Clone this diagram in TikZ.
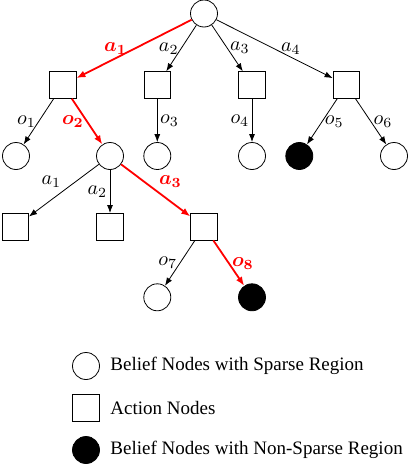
\documentclass[tikz,border=0pt]{standalone}
\usepackage{fontspec}
\setmainfont{Liberation Serif}
\usepackage{amsmath, amssymb, bm}
\usepackage{xcolor}
\usetikzlibrary{arrows.meta, positioning}

\begin{document}
\begin{tikzpicture}[x=0.5pt, y=-0.5pt,
    % Styles
    belief/.style={draw, circle, minimum size=13.5pt, inner sep=0pt, thin},
    nsbelief/.style={belief, fill=black},
    action/.style={draw, rectangle, minimum size=13.3pt, inner sep=0pt, thin},
    arrow/.style={-{Latex[length=4pt, width=3pt]}, thin},
    redarrow/.style={-{Latex[length=4.5pt, width=3.5pt]}, red, line width=0.9pt},
    lbl/.style={font=\normalsize, inner sep=1.2pt},
    redlbl/.style={lbl, text=red},
    legtext/.style={font=\fontsize{9.5}{11}\selectfont, anchor=west, inner sep=0pt}
  ]
    \useasboundingbox (0,0) rectangle (408,466);

    % === Root and first actions ===
    \node[belief] (root) at (204,13.5) {};
    \node[action] (b1) at (62.7,85) {};
    \node[action] (b2) at (157.3,85) {};
    \node[action] (b3) at (252,85) {};
    \node[action] (b4) at (346.3,85) {};

    % === Second level beliefs ===
    \node[belief] (c1) at (16,156) {};
    \node[belief] (c2) at (110,156) {};
    \node[belief] (c3) at (157.3,156) {};
    \node[belief] (c4) at (252,156) {};
    \node[nsbelief] (c5) at (299.3,156) {};
    \node[belief] (c6) at (394,156) {};

    % === Expanded branch ===
    \node[action] (d1) at (15.3,226.7) {};
    \node[action] (d2) at (110,226.7) {};
    \node[action] (d3) at (204,226.7) {};
    \node[belief] (e1) at (157.3,297.3) {};
    \node[nsbelief] (e2) at (252,297.3) {};

    % === Edges ===
    \draw[redarrow] (root) -- node[redlbl, above, pos=0.66] {$\bm{a_1}$} (b1);
    \draw[arrow] (root) -- node[lbl, left] {$a_2$} (b2);
    \draw[arrow] (root) -- node[lbl, right] {$a_3$} (b3);
    \draw[arrow] (root) -- node[lbl, above, pos=0.64] {$a_4$} (b4);

    \draw[arrow] (b1) -- node[lbl, left] {$o_1$} (c1);
    \draw[redarrow] (b1) -- node[redlbl, left] {$\bm{o_2}$} (c2);
    \draw[arrow] (b2) -- node[lbl, right] {$o_3$} (c3);
    \draw[arrow] (b3) -- node[lbl, left] {$o_4$} (c4);
    \draw[arrow] (b4) -- node[lbl, right] {$o_5$} (c5);
    \draw[arrow] (b4) -- node[lbl, right] {$o_6$} (c6);

    \draw[arrow] (c2) -- node[lbl, above left] {$a_1$} (d1);
    \draw[arrow] (c2) -- node[lbl, left] {$a_2$} (d2);
    \draw[redarrow] (c2) -- node[redlbl, above right] {$\bm{a_3}$} (d3);

    \draw[arrow] (d3) -- node[lbl, left] {$o_7$} (e1);
    \draw[redarrow] (d3) -- node[redlbl, right] {$\bm{o_8}$} (e2);

    % === Legend ===
    \node[belief] (leg1) at (86,366) {};
    \node[action] (leg2) at (86,408) {};
    \node[nsbelief] (leg3) at (86,450) {};
    \node[legtext] at (110,366) {Belief Nodes with Sparse Region};
    \node[legtext] at (110,408) {Action Nodes};
    \node[legtext] at (110,450) {Belief Nodes with Non-Sparse Region};

  \end{tikzpicture}
\end{document}
